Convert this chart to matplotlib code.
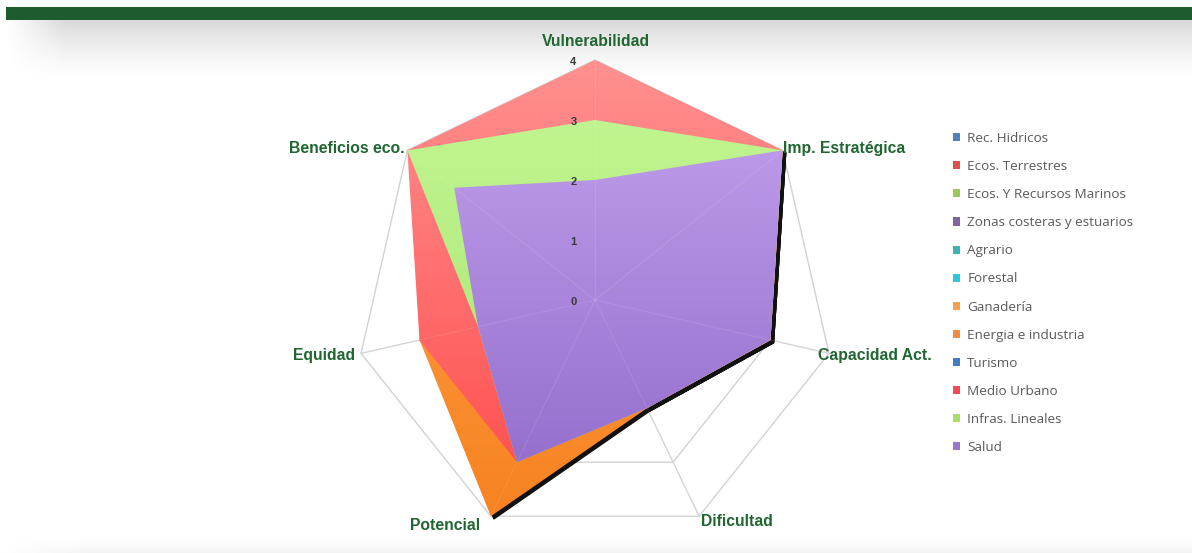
import numpy as np
import matplotlib
matplotlib.use('Agg')
import matplotlib.pyplot as plt
from matplotlib.patches import Polygon, Rectangle, Patch
from matplotlib.colors import LinearSegmentedColormap

# Data
categories = ['Vulnerabilidad', 'Imp. Estratégica', 'Capacidad Act.', 'Dificultad',
              'Potencial', 'Equidad', 'Beneficios eco.']
ticks = [0, 1, 2, 3, 4]

legend_names = ['Rec. Hidricos', 'Ecos. Terrestres', 'Ecos. Y Recursos Marinos',
                'Zonas costeras y estuarios', 'Agrario', 'Forestal', 'Ganadería',
                'Energia e industria', 'Turismo', 'Medio Urbano', 'Infras. Lineales', 'Salud']
legend_colors = ['#4F81BD', '#E0504D', '#9BC95A', '#8064A2', '#3FAFB8', '#2CC6DC',
                 '#F7A050', '#F08C46', '#3F7FC0', '#F04A55', '#A8DC6E', '#9478C8']

# visible series (drawn in legend order, later on top)
energia = [3, 4, 3, 2, 4, 3, 3]
medio_urbano = [4, 4, 3, 2, 3, 3, 4]
infras = [3, 4, 3, 2, 3, 2, 4]
salud = [2, 4, 3, 2, 3, 2, 3]

series = [
    (energia, '#FFA64F', '#F7801E'),
    (medio_urbano, '#FF9292', '#FF4545'),
    (infras, '#C4F796', '#A6E26C'),
    (salud, '#C8A6F0', '#8A64C6'),
]

n = len(categories)
theta = 2 * np.pi * np.arange(n) / n


def to_xy(vals):
    v = np.asarray(vals, dtype=float)
    return np.column_stack([v * np.sin(theta), v * np.cos(theta)])


W, H = 1192, 553
fig = plt.figure(figsize=(W / 100, H / 100), dpi=100)
fig.patch.set_facecolor('white')

# Background decorations (pixel coords)
bg = fig.add_axes([0, 0, 1, 1])
bg.axis('off')

# top shadow
gy = np.linspace(1, 0, 60) ** 1.4
gx = np.clip(np.linspace(0, 1, W) / 0.05, 0, 1)
shade = np.zeros((60, W, 4))
shade[..., :3] = 0.55
shade[..., 3] = 0.33 * gy[:, None] * gx[None, :]
bg.imshow(shade, extent=[6, W, 80, 20], aspect='auto', zorder=1)
# bottom shadow
gyb = np.linspace(0, 1, 20) ** 2
gxb = np.clip(np.linspace(0, 1, W) / 0.08, 0, 1)
shade_b = np.zeros((20, W, 4))
shade_b[..., :3] = 0.6
shade_b[..., 3] = 0.12 * gyb[:, None] * gxb[None, :]
bg.imshow(shade_b, extent=[0, W, H, H - 20], aspect='auto', zorder=1)
bg.add_patch(Rectangle((6, 7), W - 6, 13, facecolor='#1C5C2E', edgecolor='none', zorder=2))
bg.set_xlim(0, W)
bg.set_ylim(H, 0)

# Radar axes: centre at pixel (595, 300), 60 px per unit
cx, cy, ppu = 595, 300, 60
left, right, top, bottom = 295, 895, 20, 545
ax = fig.add_axes([left / W, (H - bottom) / H, (right - left) / W, (bottom - top) / H])
ax.axis('off')
ax.patch.set_alpha(0)

# gridlines
for t in ticks[1:]:
    ring = to_xy([t] * n)
    ax.add_patch(Polygon(ring, closed=True, fill=False, edgecolor='#D2D2D2', lw=1, zorder=1))
outer = to_xy([ticks[-1]] * n)
for px, py in outer:
    ax.plot([0, px], [0, py], color='#D2D2D2', lw=1, zorder=1)
    ax.plot([0, px], [0, py], color='white', alpha=0.1, lw=0.8, zorder=10)

# shadow + gradient fills
ext = [-4.5, 4.5, -4.2, 4.2]
grad = np.linspace(0, 1, 256).reshape(-1, 1)
for vals, c_top, c_bot in series:
    pts = to_xy(vals)
    ax.add_patch(Polygon(pts + np.array([0.05, -0.045]), closed=True, facecolor='#111111',
                         edgecolor='#111111', lw=1.0, zorder=2))
for i, (vals, c_top, c_bot) in enumerate(series):
    pts = to_xy(vals)
    poly = Polygon(pts, closed=True, facecolor='none', edgecolor='none', zorder=3 + i)
    ax.add_patch(poly)
    cmap = LinearSegmentedColormap.from_list('g%d' % i, [c_top, c_bot])
    im = ax.imshow(grad, cmap=cmap, extent=ext, origin='upper', aspect='auto',
                   zorder=3 + i, interpolation='bilinear')
    im.set_clip_path(poly)

ax.set_xlim((left - cx) / ppu, (right - cx) / ppu)
ax.set_ylim((cy - bottom) / ppu, (cy - top) / ppu)

# radial tick labels
for t in ticks:
    ax.text(-0.36, t - 0.03, str(t), ha='center', va='center', fontsize=8,
            fontweight='bold', color='#3A3A3A', family='Liberation Sans', zorder=11)

# category labels
label_pos = [(0.02, 4.3, 'center'), (3.14, 2.53, 'left'), (3.72, -0.92, 'left'),
             (2.37, -3.7, 'center'), (-2.5, -3.75, 'center'), (-4.0, -0.92, 'right'),
             (-3.18, 2.53, 'right')]
for name, (lx, ly, ha) in zip(categories, label_pos):
    ax.text(lx, ly, name, ha=ha, va='center', fontsize=11.3, fontweight='bold',
            color='#1F6630', family='Liberation Sans', zorder=12, clip_on=False)

# legend
handles = [Patch(facecolor=c, edgecolor='none') for c in legend_colors]
leg = fig.legend(handles, legend_names, loc='upper left',
                 bbox_to_anchor=(953 / W, 1 - 132 / H), frameon=False,
                 labelspacing=1.12, handlelength=0.55, handleheight=0.55,
                 handletextpad=0.5, borderaxespad=0, borderpad=0,
                 prop={'family': 'Open Sans', 'size': 9.7})
for txt in leg.get_texts():
    txt.set_color('#5A5A5A')

fig.savefig('out.png', dpi=100, facecolor='white')
